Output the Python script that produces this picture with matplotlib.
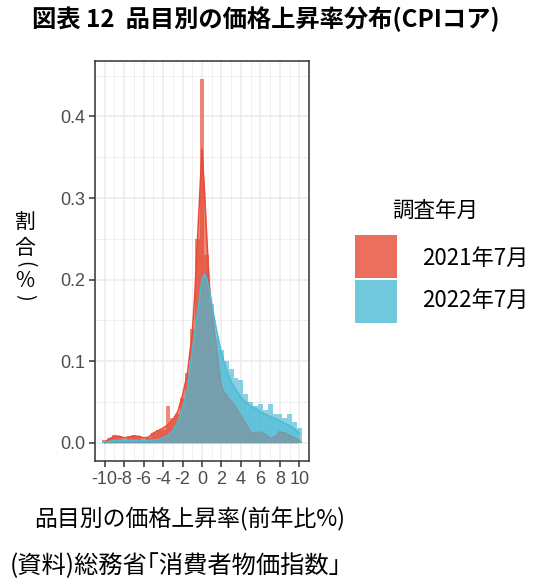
import numpy as np
import matplotlib.pyplot as plt
from matplotlib.patches import Rectangle
from matplotlib.ticker import MultipleLocator

plt.rcParams['font.family'] = ['Noto Sans CJK JP', 'DejaVu Sans']
plt.rcParams['axes.unicode_minus'] = False

# ヒストグラム（幅0.5、密度表示）の階級中心
bin_centers = [-10, -9.5, -9, -8.5, -8, -7.5, -7, -6.5, -6, -5.5,
               -5, -4.5, -4, -3.5, -3, -2.5, -2, -1.5, -1, -0.5,
               0, 0.5, 1, 1.5, 2, 2.5, 3, 3.5, 4, 4.5,
               5, 5.5, 6, 6.5, 7, 7.5, 8, 8.5, 9, 9.5, 10]

hist_2021 = [0.004, 0.006, 0.010, 0.008, 0.004, 0.008, 0.010, 0.008, 0.004, 0.006,
             0.012, 0.016, 0.016, 0.045, 0.030, 0.035, 0.055, 0.085, 0.140, 0.250,
             0.446, 0.230, 0.150, 0.110, 0.060, 0.060, 0.050, 0.040, 0.030, 0.020,
             0.012, 0.012, 0.014, 0.008, 0.004, 0.008, 0.014, 0.012, 0.008, 0.004, 0.002]

hist_2022 = [0.002, 0.002, 0.003, 0.003, 0.003, 0.003, 0.003, 0.003, 0.003, 0.003,
             0.003, 0.004, 0.006, 0.010, 0.016, 0.025, 0.040, 0.065, 0.110, 0.160,
             0.200, 0.210, 0.170, 0.130, 0.114, 0.100, 0.090, 0.080, 0.077, 0.060,
             0.050, 0.045, 0.047, 0.040, 0.047, 0.035, 0.035, 0.030, 0.035, 0.025, 0.018]

# 推定密度曲線
dens_x = [-10, -9.5, -9, -8.5, -8, -7.5, -7, -6.5, -6, -5.5,
          -5, -4.5, -4, -3.5, -3, -2.5, -2, -1.5, -1, -0.75,
          -0.5, -0.25, 0, 0.25, 0.5, 0.75, 1, 1.25, 1.5, 1.75,
          2, 2.5, 3, 3.5, 4, 4.5, 5, 5.5, 6, 6.5,
          7, 7.5, 8, 8.5, 9, 9.5, 10]

dens_2021 = [0.000, 0.005, 0.008, 0.008, 0.006, 0.007, 0.008, 0.008, 0.006, 0.007,
             0.012, 0.015, 0.018, 0.022, 0.028, 0.038, 0.058, 0.085, 0.135, 0.180,
             0.240, 0.300, 0.360, 0.310, 0.250, 0.195, 0.160, 0.140, 0.115, 0.090,
             0.068, 0.057, 0.050, 0.043, 0.033, 0.023, 0.013, 0.012, 0.012, 0.011,
             0.005, 0.007, 0.013, 0.012, 0.009, 0.006, 0.003]

dens_2022 = [0.000, 0.002, 0.003, 0.003, 0.003, 0.003, 0.003, 0.003, 0.003, 0.003,
             0.003, 0.004, 0.006, 0.009, 0.015, 0.025, 0.042, 0.065, 0.112, 0.135,
             0.155, 0.178, 0.200, 0.207, 0.200, 0.188, 0.170, 0.154, 0.138, 0.124,
             0.110, 0.090, 0.075, 0.065, 0.056, 0.050, 0.045, 0.042, 0.038, 0.035,
             0.032, 0.030, 0.027, 0.024, 0.021, 0.017, 0.012]

series = ["2021年7月", "2022年7月"]
colors = ["#E64B35", "#4DBBD5"]
alpha = 0.66
binwidth = 0.5

W, H = 535, 586
fig = plt.figure(figsize=(W / 100, H / 100), dpi=100)
ax = fig.add_axes([95 / W, 1 - 461 / H, 214 / W, 400 / H])

# ヒストグラム
for h, c in zip([hist_2021, hist_2022], colors):
    ax.bar(bin_centers, h, width=binwidth, color=c, alpha=alpha,
           linewidth=0, zorder=2)

# 密度曲線（塗り＋線）
for d, c in zip([dens_2021, dens_2022], colors):
    ax.fill_between(dens_x, 0, d, color=c, alpha=alpha, linewidth=0, zorder=3)
    ax.plot(dens_x, d, color=c, linewidth=1.1, zorder=3)

ax.set_xlim(-11, 11)
ax.set_ylim(-0.0223, 0.468)
ax.set_xticks([-10, -8, -6, -4, -2, 0, 2, 4, 6, 8, 10])
ax.set_yticks([0.0, 0.1, 0.2, 0.3, 0.4])
ax.set_yticklabels(["0.0", "0.1", "0.2", "0.3", "0.4"])
ax.xaxis.set_minor_locator(MultipleLocator(1))
ax.yaxis.set_minor_locator(MultipleLocator(0.05))

ax.grid(which='major', color='#EBEBEB', linewidth=1.1, zorder=0)
ax.grid(which='minor', color='#EBEBEB', linewidth=0.55, zorder=0)
ax.set_axisbelow(True)
for s in ax.spines.values():
    s.set_color('#333333')
    s.set_linewidth(1.1)

ax.tick_params(which='major', length=4, width=1.1, color='#333333',
               labelcolor='#4D4D4D', labelsize=13, pad=3)
ax.tick_params(which='minor', length=0)
for lab in ax.get_xticklabels() + ax.get_yticklabels():
    lab.set_family(['Liberation Sans'])

# 軸ラベル
fig.text(190 / W, 1 - 519 / H, "品目別の価格上昇率(前年比%)",
         fontsize=16.5, ha='center', va='center')
fig.text(25 / W, 1 - 222 / H, "割", fontsize=15, ha='center', va='center')
fig.text(25 / W, 1 - 248 / H, "合", fontsize=15, ha='center', va='center')
fig.text(25 / W, 1 - 264 / H, "(", fontsize=14, rotation=-90, ha='center', va='center')
fig.text(25 / W, 1 - 281 / H, "%", fontsize=15, ha='center', va='center')
fig.text(25 / W, 1 - 297 / H, ")", fontsize=14, rotation=-90, ha='center', va='center')

# 凡例
fig.text(435 / W, 1 - 211 / H, "調査年月", fontsize=15.5, ha='center', va='center')
key_y = [235, 280]
label_y = [258, 300]
for c, lab, ky, ly in zip(colors, series, key_y, label_y):
    fig.add_artist(Rectangle((355 / W, 1 - (ky + 43) / H), 42 / W, 43 / H,
                             transform=fig.transFigure, facecolor=c,
                             alpha=0.8, edgecolor='none'))
    fig.text(422 / W, 1 - ly / H, lab, fontsize=16, ha='left', va='center')

fig.text(32 / W, 1 - 19 / H, "図表 12  品目別の価格上昇率分布(CPIコア)",
         fontsize=17.5, fontweight='bold', ha='left', va='center')
fig.text(10 / W, 1 - 566 / H, "(資料)総務省｢消費者物価指数｣",
         fontsize=17.5, ha='left', va='center')

fig.savefig("out.png", dpi=100)
